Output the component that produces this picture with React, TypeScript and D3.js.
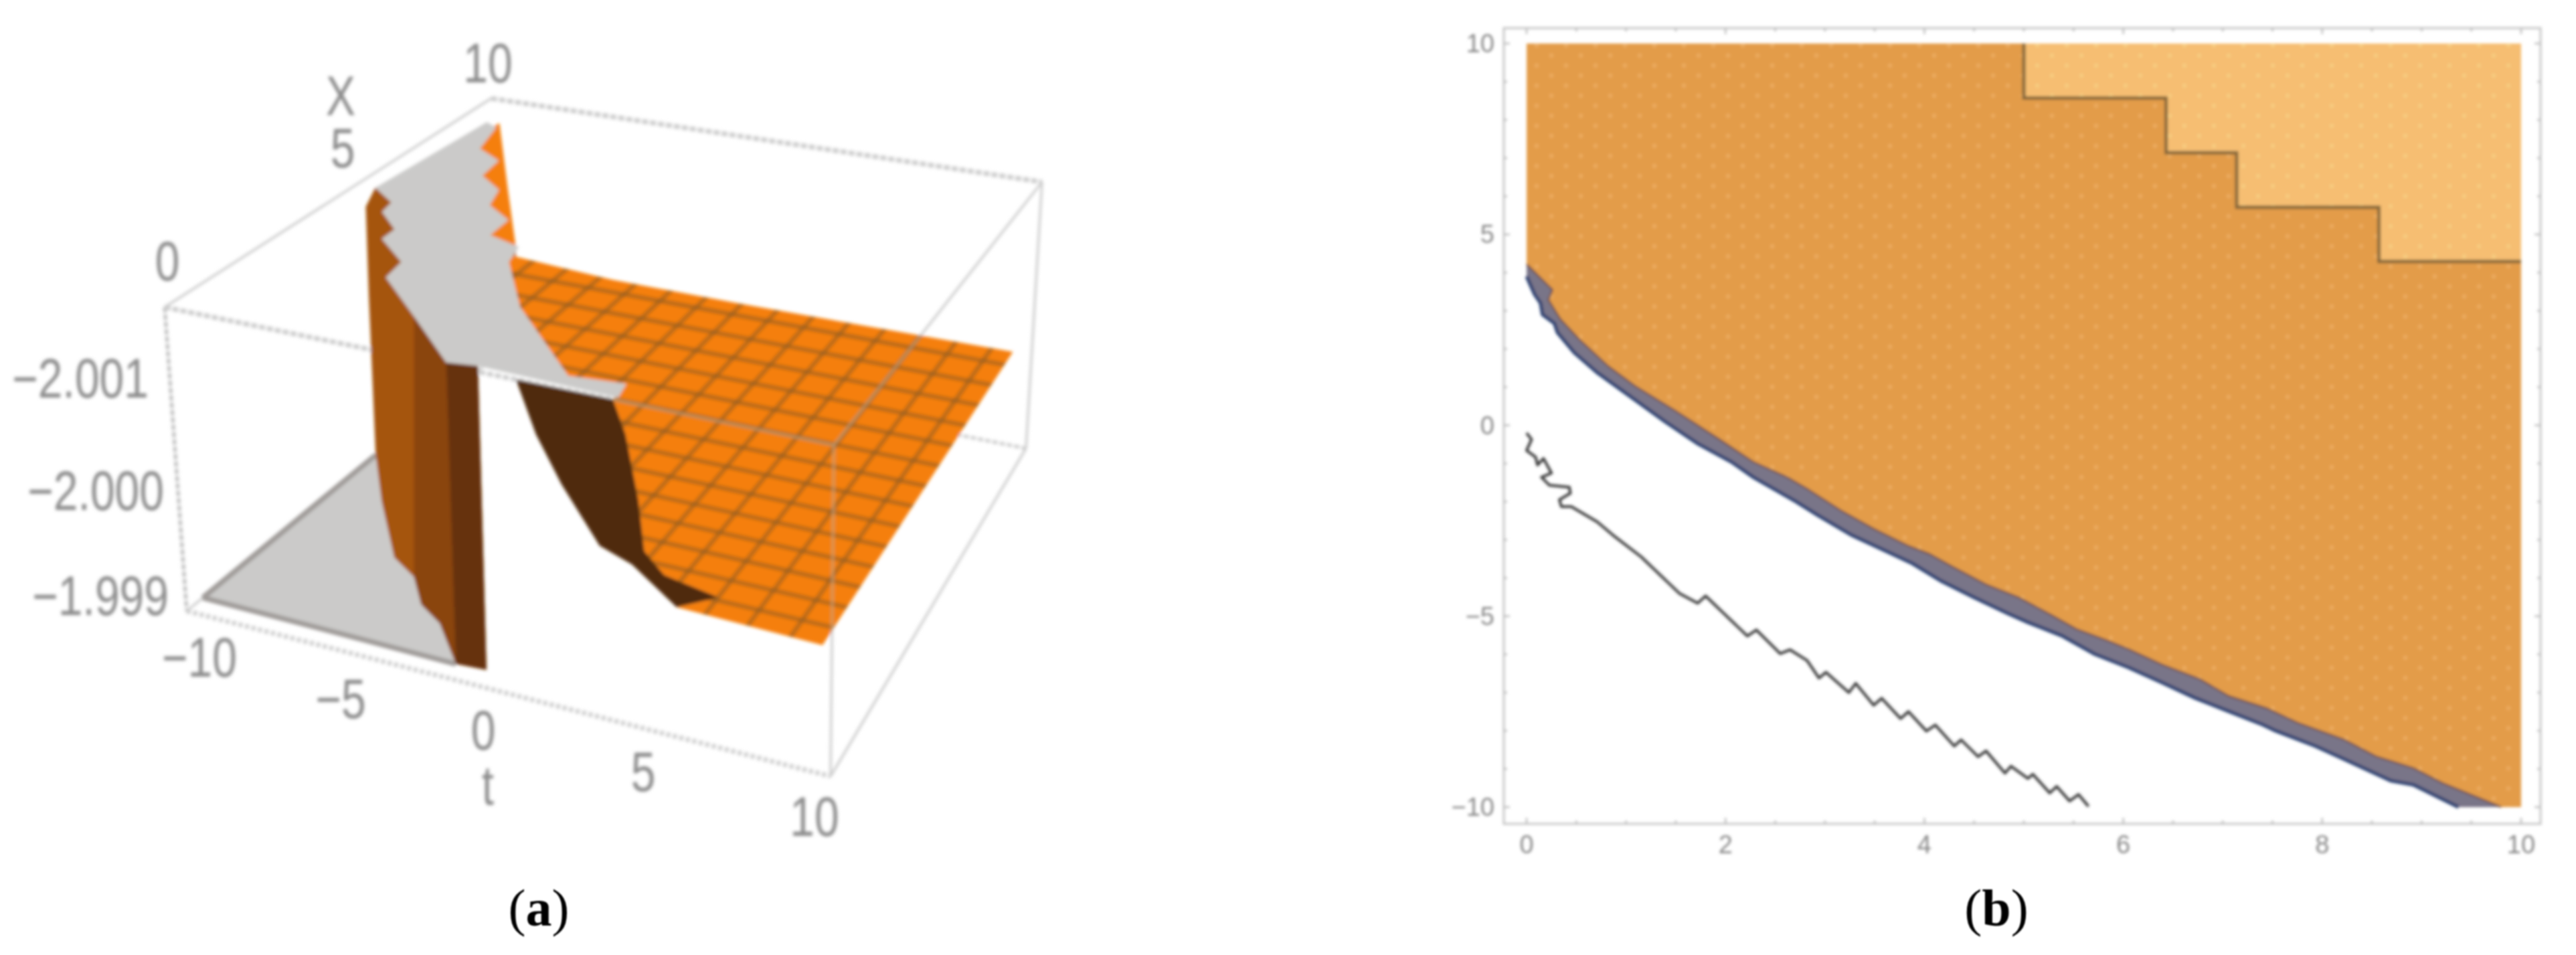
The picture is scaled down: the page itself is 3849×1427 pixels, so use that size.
import React from "react";
import * as d3 from "d3";

// ---------- Panel (a): surface data in (t, X, z) ----------
const capT = [-9.06,-9.38,-8.38,-8.26,-7.28,-7.26,-5.94,-5.8,-3.82,-1.66,-0.8,3.48,3.34,1.68,-1.48,-3.18,-3.42,-4.58,-4.62,-5.66,-5.98,-6.98,-7.12,-8.14,-8.56];
const capX = [9.06,5.88,5.44,5.03,4.47,4.04,3.33,2.67,1.47,0.09,0.2,0.1,0.62,0.49,2.54,4.05,4.66,4.9,5.56,5.98,6.6,7.02,7.68,8.02,8.91];

const floorT = [-10,-10,-8.36,-6.36,-5.3,-4.38,-3.42,-2.02];
const floorX = [0.5,5.87,4.56,3.02,2.6,1.87,1.47,0.45];

const wallT = [-9.38,-10,-10,-10,-8.36,-6.36,-5.3,-4.38,-3.42,-2.02,-1.1,-0.8,-5];
const wallX = [5.88,6.1,6,5.87,4.56,3.02,2.6,1.87,1.47,0.45,0.5,0.2,5];
const wallZ = [-2.001,-2.0008,-2.00014,-1.999,-1.999,-1.999,-1.999,-1.999,-1.999,-1.999,-1.999,-2.001,-2.001];

const wallMidT = [-3.82,-1.66,-2.02,-3.42,-4.38,-5.3];
const wallMidX = [1.47,0.09,0.45,1.47,1.87,2.6];
const wallMidZ = [-2.001,-2.001,-1.999,-1.999,-1.999,-1.999];

const wallDarkT = [-1.66,-0.8,-1.1,-2.02];
const wallDarkX = [0.09,0.2,0.5,0.45];
const wallDarkZ = [-2.001,-2.001,-1.999,-1.999];

const sheetT = [-8.66,-5.74,-3.5,-9.37,-5.54,-0.76,9.46,9.66,5.25,6.54,4.88,4.28,4.12,3.76,3.4,3.34,1.68,-1.48,-3.18,-5.5,-8.8];
const sheetX = [9.1,6.66,4.64,9.91,9.73,9.71,9.76,0.09,0,0,0,0,0,0,0,0.62,0.49,2.54,4.05,3.5,8];
const sheetZ = [-2.001,-2.001,-2.001,-1.99976,-1.99976,-1.99976,-1.99976,-1.99976,-1.9998,-1.99992,-1.99998,-2.0001,-2.00041,-2.0008,-2.001,-2.001,-2.001,-2.001,-2.001,-2.001,-2.001];

const pitT = [0.5,3.4,3.76,4.12,4.28,4.88,6.54,5.25,3.9,2.92,1.8,1.06];
const pitZ = [-2.001,-2.001,-2.0008,-2.00041,-2.0001,-1.99998,-1.99992,-1.9998,-2,-2.00007,-2.0004,-2.00068];

const planeZ = -1.99976;
const tTicksA = [-10,-5,0,5,10];
const xTicksA = [0,5,10];
const zTicksA = [-2.001,-2.0,-1.999];
const tLabelsA = ["−10","−5","0","5","10"];
const xLabelsA = ["0","5","10"];
const zLabelsA = ["−2.001","−2.000","−1.999"];

// ---------- Panel (b) ----------
const stairT = [5,5,6.43,6.43,7.14,7.14,8.57,8.57,10];
const stairY = [10,8.57,8.57,7.14,7.14,5.71,5.71,4.29,4.29];

const upperT = [0,0.26,0.22,0.34,0.53,0.82,1.09,1.49,1.94,2.28,2.62,2.82,3.16,3.49,3.83,4.05,4.28,4.62,4.95,5.29,5.53,5.83,6.05,6.39,6.77,7.06,7.44,7.75,8.22,8.54,8.92,9.21,9.8];
const upperY = [4.22,3.55,3.29,2.78,2.25,1.55,1.03,0.39,-0.37,-0.96,-1.36,-1.66,-2.23,-2.71,-3.15,-3.37,-3.7,-4.17,-4.51,-4.99,-5.34,-5.63,-5.86,-6.27,-6.65,-7.09,-7.41,-7.79,-8.23,-8.67,-8.98,-9.37,-10];
const lowerT = [0,0.08,0.14,0.16,0.28,0.31,0.48,0.71,1.05,1.39,1.72,2.06,2.28,2.48,2.71,2.93,3.27,3.61,3.88,4.17,4.5,4.84,5.04,5.38,5.71,6.05,6.39,6.72,7.06,7.4,7.53,7.93,8.2,8.69,8.92,9.37];
const lowerY = [3.9,3.43,3.2,2.9,2.67,2.43,1.9,1.38,0.74,0.1,-0.48,-0.96,-1.36,-1.66,-2,-2.36,-2.88,-3.29,-3.62,-4.08,-4.51,-4.93,-5.16,-5.51,-5.99,-6.34,-6.74,-7.14,-7.49,-7.84,-8,-8.4,-8.72,-9.31,-9.42,-10];

const traceT = [0,0.05,0,0.09,0.11,0.17,0.25,0.15,0.23,0.43,0.44,0.33,0.35,0.45,0.71,0.87,1.15,1.54,1.72,1.8,2.22,2.31,2.55,2.65,2.82,2.94,3.01,3.24,3.31,3.49,3.57,3.76,3.84,4.02,4.11,4.3,4.37,4.54,4.62,4.81,4.87,5.04,5.09,5.26,5.33,5.46,5.55,5.65];
const traceY = [-0.2,-0.37,-0.66,-0.83,-1.04,-0.87,-1.25,-1.36,-1.57,-1.62,-1.78,-1.95,-2.13,-2.13,-2.53,-2.88,-3.44,-4.41,-4.66,-4.47,-5.52,-5.36,-5.98,-5.88,-6.16,-6.62,-6.47,-7,-6.76,-7.33,-7.15,-7.68,-7.5,-8.01,-7.85,-8.4,-8.24,-8.68,-8.53,-9.11,-8.93,-9.25,-9.14,-9.63,-9.46,-9.84,-9.67,-9.98];

const xTicksB = [0,2,4,6,8,10];
const yTicksB = [-10,-5,0,5,10];

// ---------- Layout ----------
const W = 3849, H = 1427;
const uS = d3.scaleLinear().domain([-10, 10]).range([0, 1]);
const vS = d3.scaleLinear().domain([0, 10]).range([0, 1]);
const wS = d3.scaleLinear().domain([-2.001, -1.999]).range([0, 1]);
const C3 = [[246,459],[1246,665],[734,147],[1557,272],[279,913],[1241,1160],[760,516],[1533,670]];
function project(t: number, X: number, z: number): [number, number] {
  const u = uS(t), v = vS(X), w = wS(z);
  const out = [0, 0];
  for (let i = 0; i < 8; i++) {
    const k = (i & 1 ? u : 1 - u) * (i & 2 ? v : 1 - v) * (i & 4 ? w : 1 - w);
    out[0] += k * C3[i][0];
    out[1] += k * C3[i][1];
  }
  return [out[0], out[1]];
}
const path3 = (pts: [number, number][], closed = true) => (d3.line()(pts) || "") + (closed ? "Z" : "");
const poly3 = (ts: number[], xs: number[], zs: number[] | number) =>
  path3(ts.map((t, i) => project(t, xs[i], Array.isArray(zs) ? zs[i] : zs)));
const edge = (a: number[], b: number[]) => path3([project(a[0], a[1], a[2]), project(b[0], b[1], b[2])], false);

const T0 = -10, T1 = 10, X0 = 0, X1 = 10, ZT = -2.001, ZB = -1.999;

const tLabelX = d3.scaleLinear().domain(tTicksA).range([298,509,722,961,1217]);
const tLabelY = d3.scaleLinear().domain(tTicksA).range([982,1044,1091,1153,1220]);
const xLabelX = d3.scaleLinear().domain(xTicksA).range([250,512,729]);
const xLabelY = d3.scaleLinear().domain(xTicksA).range([390,221,94]);
const zLabelX = d3.scaleLinear().domain(zTicksA).range([222,245,252]);
const zLabelY = d3.scaleLinear().domain(zTicksA).range([565,733,890]);

const xB = d3.scaleLinear().domain([0, 10]).range([2281, 3767]);
const yB = d3.scaleLinear().domain([-10, 10]).range([1206, 65]);
const lineB = d3.line<number>();
const polyB = (ts: number[], ys: number[]) => ts.map((t, i) => [xB(t), yB(ys[i])] as [number, number]);

const frame = { l: 2247, r: 3796, t: 42, b: 1231 };

const meshT = d3.range(-10, 10.01, 20 / 15);
const meshX = d3.range(0, 10.01, 10 / 15);

function Label3D({ x, y, anchor = "middle", children }: any) {
  return (
    <text transform={`translate(${x},${y}) scale(1,1.25)`} textAnchor={anchor} dominantBaseline="central"
      fontFamily="Liberation Sans" fontSize={66} fill="#8c8c8c">{children}</text>
  );
}

export default function App() {
  const sheet = poly3(sheetT, sheetX, sheetZ);
  const orangeBand = lineB(polyB(upperT, upperY).concat(polyB(lowerT, lowerY).reverse())) + "Z";
  const orangeFill = lineB(
    polyB([0, 10, 10], [10, 10, -10]).concat(polyB(upperT, upperY).reverse())
  ) + "Z";
  const lightFill = lineB(polyB(stairT.concat([10]), stairY.concat([10]))) + "Z";
  return (
    <svg width={W} height={H} viewBox={`0 0 ${W} ${H}`} style={{ position: "absolute", left: 0, top: 0, background: "#fff" }}>
      <defs>
        <filter id="soft" filterUnits="userSpaceOnUse" x="0" y="0" width={W} height={H}>
          <feGaussianBlur stdDeviation="2.6" />
        </filter>
        <filter id="softB" filterUnits="userSpaceOnUse" x="0" y="0" width={W} height={H}>
          <feGaussianBlur stdDeviation="2" />
        </filter>
        <filter id="softC" filterUnits="userSpaceOnUse" x="0" y="0" width={W} height={H}>
          <feGaussianBlur stdDeviation="1" />
        </filter>
        <clipPath id="sheetClip"><path d={sheet} /></clipPath>
        <pattern id="fleck" width="44" height="30" patternUnits="userSpaceOnUse">
          <circle cx="8" cy="8" r="3" fill="#f4b974" opacity="0.55" />
          <circle cx="30" cy="23" r="3" fill="#f4b974" opacity="0.55" />
        </pattern>
        <pattern id="fleckLight" width="44" height="30" patternUnits="userSpaceOnUse">
          <circle cx="8" cy="8" r="3" fill="#f9d98a" opacity="0.6" />
          <circle cx="30" cy="23" r="3" fill="#f9d98a" opacity="0.6" />
        </pattern>
      </defs>

      <g filter="url(#soft)">
        {/* box: rear and side edges */}
        <g fill="none" stroke="#cdcdcd" strokeWidth={3.5}>
          <path d={edge([T0,X0,ZT],[T0,X1,ZT])} />
          <path d={edge([T0,X0,ZT],[T0,X0,ZB])} strokeWidth={5} stroke="#bdbdbd" strokeDasharray="8 3" />
          <path d={edge([T1,X1,ZT],[T1,X1,ZB])} />
          <path d={edge([T1,X1,ZT],[T1,X0,ZT])} />
          <path d={edge([T1,X1,ZB],[T1,X0,ZB])} />
          <path d={edge([T1,X0,ZT],[T1,X0,ZB])} />
          <path d={edge([T0,X1,ZB],[T1,X1,ZB])} strokeWidth={5} strokeDasharray="8 3" />
          <path d={edge([T0,X0,ZB],[T0,X1,ZB])} />
          <path d={edge([T0,X1,ZT],[T1,X1,ZT])} strokeWidth={7} strokeDasharray="9 3" />
          <path d={edge([T0,X0,ZT],[T1,X0,ZT])} strokeWidth={7} strokeDasharray="9 3" />
          <path d={edge([T0,X0,ZB],[T1,X0,ZB])} strokeWidth={7} strokeDasharray="6 4" />
        </g>

        {/* floor cap */}
        <path d={poly3(floorT, floorX, ZB)} fill="#cbcac9" />
        <path d={path3(floorT.slice(0, 2).map((t, i) => project(t, floorX[i], ZB)), false)} stroke="#a09c9a" strokeWidth={8} fill="none" />
        <path d={path3([project(floorT[0], floorX[0], ZB), project(floorT[7], floorX[7], ZB)], false)} stroke="#a09c9a" strokeWidth={8} fill="none" />

        {/* walls */}
        <path d={poly3(wallT, wallX, wallZ)} fill="#a5540c" />
        <path d={poly3(wallMidT, wallMidX, wallMidZ)} fill="#8a4409" />
        <path d={poly3(wallDarkT, wallDarkX, wallDarkZ)} fill="#663208" />

        {/* orange sheet and mesh */}
        <path d={sheet} fill="#f57f0d" />
        <g clipPath="url(#sheetClip)" stroke="#8f5c22" strokeWidth={7} strokeOpacity={0.55}>
          {meshT.map((t) => <path key={"t" + t} d={edge([t, X0, planeZ], [t, X1, planeZ])} />)}
          {meshX.map((x) => <path key={"x" + x} d={edge([T0, x, planeZ], [T1, x, planeZ])} />)}
        </g>

        {/* dark wall */}
        <path d={poly3(pitT, pitT.map(() => 0), pitZ)} fill="#50290a" />

        {/* top cap */}
        <path d={poly3(capT, capX, ZT)} fill="#cbcac9" />

        {/* front edges seen through the sheet */}
        <g clipPath="url(#sheetClip)" fill="none" stroke="#c0a888" strokeOpacity={0.6} strokeWidth={4}>
          <path d={edge([T0,X0,ZT],[T1,X0,ZT])} />
          <path d={edge([T1,X0,ZT],[T1,X0,ZB])} />
          <path d={edge([T1,X1,ZT],[T1,X0,ZT])} />
        </g>

        {zTicksA.map((z, i) => <Label3D key={z} x={zLabelX(z)} y={zLabelY(z)} anchor="end">{zLabelsA[i]}</Label3D>)}
        {xTicksA.map((x, i) => <Label3D key={x} x={xLabelX(x)} y={xLabelY(x)}>{xLabelsA[i]}</Label3D>)}
        {tTicksA.map((t, i) => <Label3D key={t} x={tLabelX(t)} y={tLabelY(t)}>{tLabelsA[i]}</Label3D>)}
        <Label3D x={509} y={143}>X</Label3D>
        <Label3D x={729} y={1173}>t</Label3D>
      </g>

      <g filter="url(#softB)">
        <path d={orangeFill} fill="#e39c4a" />
        <path d={orangeFill} fill="url(#fleck)" />
        <path d={lightFill} fill="#f6be72" />
        <path d={lightFill} fill="url(#fleckLight)" />
        <path d={lineB(polyB(stairT, stairY)) || ""} fill="none" stroke="#86683a" strokeWidth={5} />
        <path d={orangeBand} fill="#797588" />
        <path d={lineB(polyB(lowerT, lowerY)) || ""} fill="none" stroke="#263c6e" strokeWidth={5} />
        <path d={lineB(polyB(upperT, upperY)) || ""} fill="none" stroke="#6e5048" strokeWidth={2.5} />
        <path d={lineB(polyB(traceT, traceY)) || ""} fill="none" stroke="#3a3a3a" strokeWidth={4} strokeLinejoin="round" />

        <rect x={frame.l} y={frame.t} width={frame.r - frame.l} height={frame.b - frame.t} fill="none" stroke="#c4c4c4" strokeWidth={3} />
        <g stroke="#bbb" strokeWidth={2.5}>
          {d3.range(0, 10.01, 0.5).map((t) => {
            const len = t % 2 === 0 ? 9 : 5;
            return (
              <g key={t}>
                <line x1={xB(t)} x2={xB(t)} y1={frame.b} y2={frame.b - len} />
                <line x1={xB(t)} x2={xB(t)} y1={frame.t} y2={frame.t + len} />
              </g>
            );
          })}
          {d3.range(-10, 10.01, 1).map((v) => {
            const len = v % 5 === 0 ? 9 : 5;
            return (
              <g key={v}>
                <line y1={yB(v)} y2={yB(v)} x1={frame.l} x2={frame.l + len} />
                <line y1={yB(v)} y2={yB(v)} x1={frame.r} x2={frame.r - len} />
              </g>
            );
          })}
        </g>
        <g fontFamily="Liberation Sans" fontSize={38} fill="#888">
          {xTicksB.map((t) => (
            <text key={t} x={xB(t)} y={1262} textAnchor="middle" dominantBaseline="central">{t}</text>
          ))}
          {yTicksB.map((v) => (
            <text key={v} x={2233} y={yB(v)} textAnchor="end" dominantBaseline="central">{v < 0 ? "−" + -v : v}</text>
          ))}
        </g>
      </g>

      <g fontFamily="Liberation Serif" fontSize={78} fill="#000" textAnchor="middle" filter="url(#softC)">
        <text x={805} y={1383}>(<tspan fontWeight="bold">a</tspan>)</text>
        <text x={2983} y={1383}>(<tspan fontWeight="bold">b</tspan>)</text>
      </g>
    </svg>
  );
}
